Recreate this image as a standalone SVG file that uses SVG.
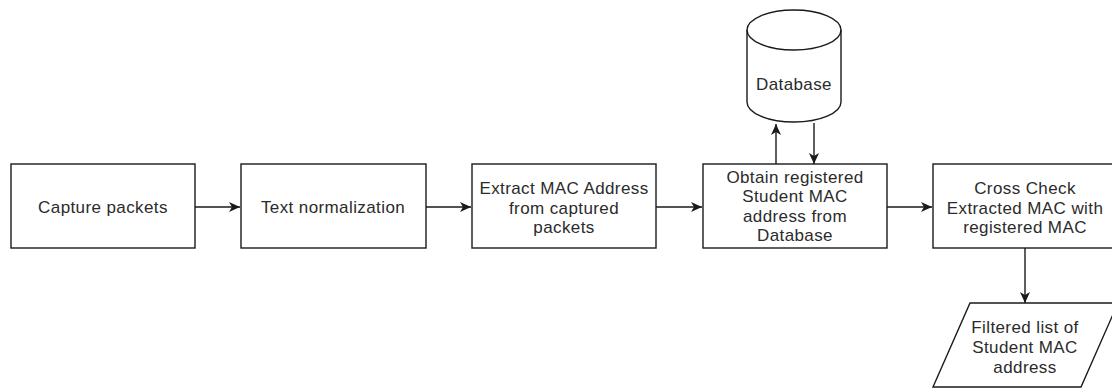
<svg xmlns="http://www.w3.org/2000/svg" width="1112" height="390" viewBox="0 0 1112 390">
  <style>
    .box { fill: #ffffff; stroke: #1a1a1a; stroke-width: 1.4; }
    .lbl { font-family: "Liberation Sans", Arial, sans-serif; font-size: 17px; letter-spacing: 0.4px; fill: #2b2b2b; text-anchor: middle; }
    .edge { fill: none; stroke: #1a1a1a; stroke-width: 1.4; }
  </style>
  <defs>
    <marker id="arrow" markerUnits="userSpaceOnUse" markerWidth="12" markerHeight="10" refX="11" refY="5" orient="auto">
      <path d="M0,0 L11,5 L0,10 L3,5 Z" fill="#1a1a1a"/>
    </marker>
  </defs>
  <rect width="1112" height="390" fill="#ffffff"/>

  <g id="connectors">
    <path class="edge" d="M195,207 L240,207" marker-end="url(#arrow)"/>
    <path class="edge" d="M426,207 L471,207" marker-end="url(#arrow)"/>
    <path class="edge" d="M656,207 L702,207" marker-end="url(#arrow)"/>
    <path class="edge" d="M887,207 L932,207" marker-end="url(#arrow)"/>
    <path class="edge" d="M776,164 L776,124" marker-end="url(#arrow)"/>
    <path class="edge" d="M814,123 L814,164" marker-end="url(#arrow)"/>
    <path class="edge" d="M1025,248 L1025,303" marker-end="url(#arrow)"/>
  </g>

  <g id="capture">
    <rect class="box" x="11" y="164" width="184" height="84"/>
    <text class="lbl" x="103" y="213">Capture packets</text>
  </g>

  <g id="normalize">
    <rect class="box" x="241" y="164" width="185" height="84"/>
    <text class="lbl" x="333" y="213">Text normalization</text>
  </g>

  <g id="extract">
    <rect class="box" x="472" y="164" width="184" height="84"/>
    <text class="lbl" x="564" y="194">Extract MAC Address</text>
    <text class="lbl" x="564" y="214">from captured</text>
    <text class="lbl" x="564" y="233">packets</text>
  </g>

  <g id="obtain">
    <rect class="box" x="703" y="164" width="184" height="84"/>
    <text class="lbl" x="795" y="183">Obtain registered</text>
    <text class="lbl" x="795" y="202">Student MAC</text>
    <text class="lbl" x="795" y="222">address from</text>
    <text class="lbl" x="795" y="241">Database</text>
  </g>

  <g id="database">
    <path class="box" d="M747,30 A47,20 0 0 1 841,30 L841,102 A47,20 0 0 1 747,102 Z"/>
    <path class="edge" d="M747,30 A47,20 0 0 0 841,30"/>
    <text class="lbl" x="794" y="90">Database</text>
  </g>

  <g id="crosscheck">
    <rect class="box" x="933" y="164" width="184" height="84"/>
    <text class="lbl" x="1025" y="194">Cross Check</text>
    <text class="lbl" x="1025" y="214">Extracted MAC with</text>
    <text class="lbl" x="1025" y="233">registered MAC</text>
  </g>

  <g id="filtered">
    <path class="box" d="M970,303 L1118,303 L1081,387 L933,387 Z"/>
    <text class="lbl" x="1025" y="333">Filtered list of</text>
    <text class="lbl" x="1025" y="353">Student MAC</text>
    <text class="lbl" x="1025" y="373">address</text>
  </g>
</svg>
